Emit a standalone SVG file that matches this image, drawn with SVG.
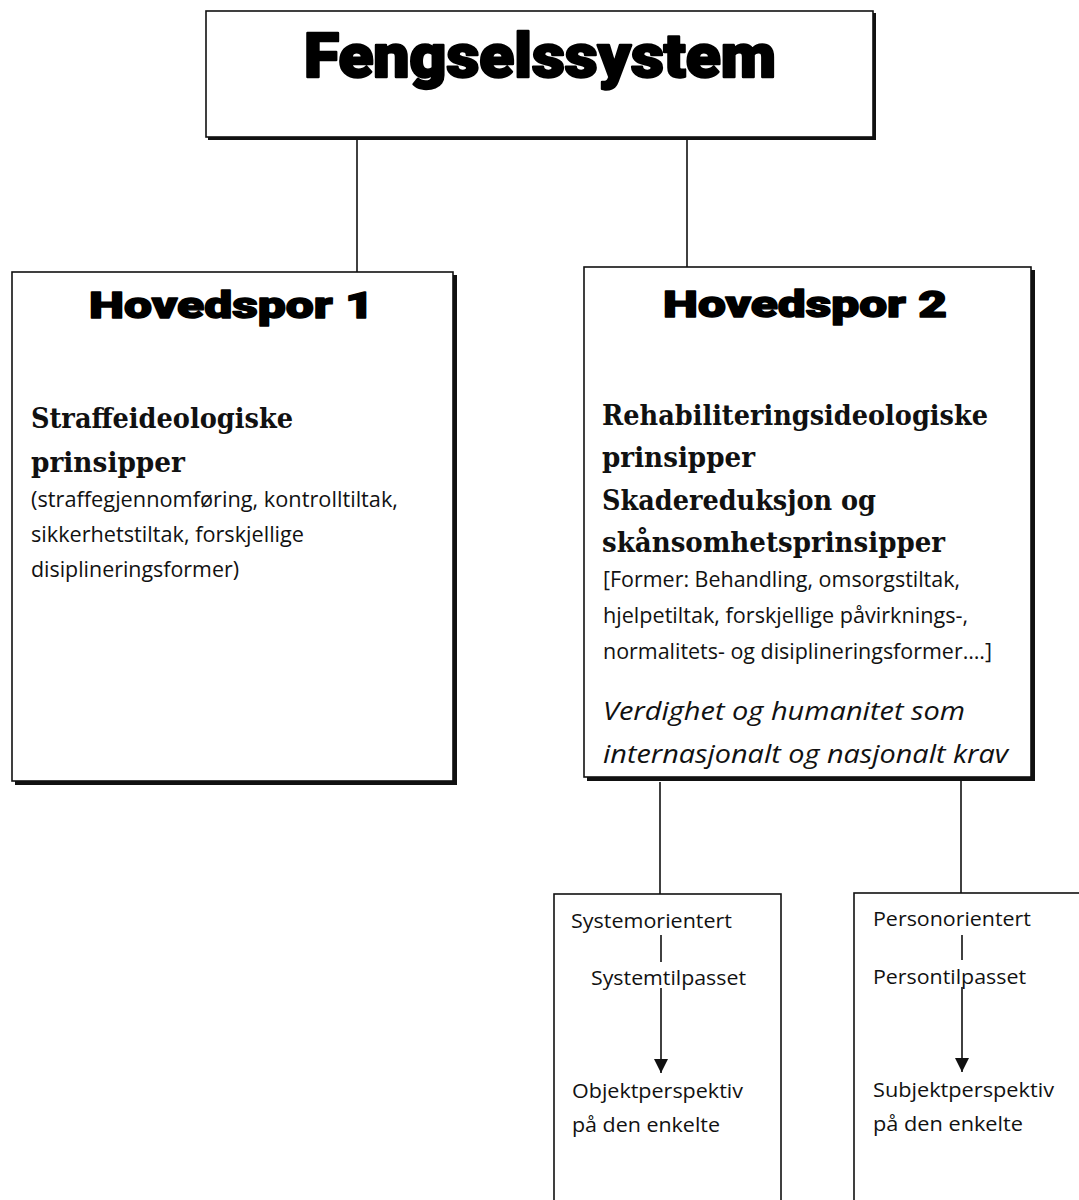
<svg xmlns="http://www.w3.org/2000/svg" width="1079" height="1200" viewBox="0 0 1079 1200">
<style>
.box{fill:#fff;stroke:#111;stroke-width:1.6}
.shadow{fill:#111}
.heavy{font-family:Roboto,"DejaVu Sans",sans-serif;font-weight:900;fill:#000;stroke:#000;stroke-linejoin:round}
.sbold{font-family:"DejaVu Serif","Liberation Serif",serif;font-weight:bold;font-size:27px;fill:#111}
.body{font-family:"Open Sans","Liberation Sans",sans-serif;font-size:21px;fill:#111}
.ital{font-family:"Open Sans","Liberation Sans",sans-serif;font-style:italic;font-size:26px;fill:#111}
.small{font-family:"Open Sans","Liberation Sans",sans-serif;font-size:20px;fill:#111}
.conn{stroke:#111;stroke-width:1.6;fill:none}
</style>
<defs>
<marker id="arr" viewBox="0 0 10 10" refX="10" refY="5" markerWidth="14" markerHeight="14" markerUnits="userSpaceOnUse" orient="auto">
<path d="M0,0 L10,5 L0,10 Z" fill="#111"/>
</marker>
</defs>
<rect width="1079" height="1200" fill="#fff"/>

<g id="connectors">
<line class="conn" x1="357" y1="138" x2="357" y2="272"/>
<line class="conn" x1="687" y1="138" x2="687" y2="268"/>
<line class="conn" x1="660" y1="782" x2="660" y2="894"/>
<line class="conn" x1="961" y1="780" x2="961" y2="893"/>
</g>

<g id="top">
<rect class="shadow" x="208" y="13" width="668" height="127"/>
<rect class="box" x="206" y="11" width="667" height="126"/>
<text class="heavy" x="304" y="77" font-size="62" stroke-width="2.4" textLength="472" lengthAdjust="spacingAndGlyphs">Fengselssystem</text>
</g>

<g id="hovedspor1">
<rect class="shadow" x="15" y="275" width="442" height="510"/>
<rect class="box" x="12" y="272" width="441" height="509"/>
<text class="heavy" x="89" y="318" font-size="37" stroke-width="1.4" textLength="285" lengthAdjust="spacingAndGlyphs">Hovedspor 1</text>
<text class="sbold" x="31" y="428" textLength="262" lengthAdjust="spacingAndGlyphs">Straffeideologiske</text>
<text class="sbold" x="31" y="472" textLength="154" lengthAdjust="spacingAndGlyphs">prinsipper</text>
<text class="body" x="31" y="507" textLength="367" lengthAdjust="spacingAndGlyphs">(straffegjennomføring, kontrolltiltak,</text>
<text class="body" x="31" y="542" textLength="273" lengthAdjust="spacingAndGlyphs">sikkerhetstiltak, forskjellige</text>
<text class="body" x="31" y="577" textLength="208" lengthAdjust="spacingAndGlyphs">disiplineringsformer)</text>
</g>

<g id="hovedspor2">
<rect class="shadow" x="587" y="270" width="448" height="511"/>
<rect class="box" x="584" y="267" width="447" height="510"/>
<text class="heavy" x="663" y="317" font-size="37" stroke-width="1.4" textLength="284" lengthAdjust="spacingAndGlyphs">Hovedspor 2</text>
<text class="sbold" x="602" y="425" textLength="386" lengthAdjust="spacingAndGlyphs">Rehabiliteringsideologiske</text>
<text class="sbold" x="602" y="467" textLength="153" lengthAdjust="spacingAndGlyphs">prinsipper</text>
<text class="sbold" x="602" y="510" textLength="274" lengthAdjust="spacingAndGlyphs">Skadereduksjon og</text>
<text class="sbold" x="602" y="552" textLength="343" lengthAdjust="spacingAndGlyphs">skånsomhetsprinsipper</text>
<text class="body" x="603" y="587" textLength="357" lengthAdjust="spacingAndGlyphs">[Former: Behandling, omsorgstiltak,</text>
<text class="body" x="603" y="623" textLength="365" lengthAdjust="spacingAndGlyphs">hjelpetiltak, forskjellige påvirknings-,</text>
<text class="body" x="603" y="659" textLength="389" lengthAdjust="spacingAndGlyphs">normalitets- og disiplineringsformer….]</text>
<text class="ital" x="603" y="720" textLength="362" lengthAdjust="spacingAndGlyphs">Verdighet og humanitet som</text>
<text class="ital" x="603" y="763" textLength="405" lengthAdjust="spacingAndGlyphs">internasjonalt og nasjonalt krav</text>
</g>

<g id="systemorientert">
<rect class="box" x="554" y="894" width="227" height="330"/>
<text class="small" x="571" y="928" textLength="161" lengthAdjust="spacingAndGlyphs">Systemorientert</text>
<line class="conn" x1="661" y1="935" x2="661" y2="962"/>
<text class="small" x="591" y="985" textLength="155" lengthAdjust="spacingAndGlyphs">Systemtilpasset</text>
<line class="conn" x1="661" y1="988" x2="661" y2="1073" marker-end="url(#arr)"/>
<text class="small" x="572" y="1098" textLength="171" lengthAdjust="spacingAndGlyphs">Objektperspektiv</text>
<text class="small" x="572" y="1132" textLength="148" lengthAdjust="spacingAndGlyphs">på den enkelte</text>
</g>

<g id="personorientert">
<rect class="box" x="854" y="893" width="260" height="330"/>
<text class="small" x="873" y="926" textLength="158" lengthAdjust="spacingAndGlyphs">Personorientert</text>
<line class="conn" x1="962" y1="935" x2="962" y2="960"/>
<text class="small" x="873" y="984" textLength="153" lengthAdjust="spacingAndGlyphs">Persontilpasset</text>
<line class="conn" x1="962" y1="987" x2="962" y2="1072" marker-end="url(#arr)"/>
<text class="small" x="873" y="1097" textLength="181" lengthAdjust="spacingAndGlyphs">Subjektperspektiv</text>
<text class="small" x="873" y="1131" textLength="150" lengthAdjust="spacingAndGlyphs">på den enkelte</text>
</g>
</svg>
